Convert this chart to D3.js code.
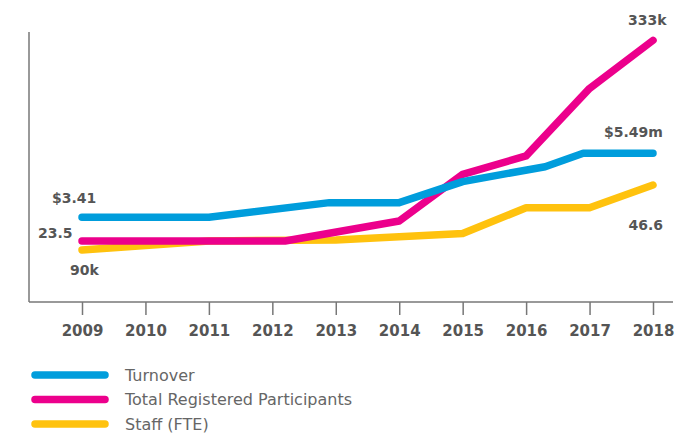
<!DOCTYPE html>
<html>
<head>
<meta charset="utf-8">
<script src="https://cdn.jsdelivr.net/npm/d3@7"></script>
<style>
  body { margin: 0; background: #fff; }
  svg text { font-family: "DejaVu Sans", sans-serif; }
</style>
</head>
<body>
<div id="chart"></div>
<script>
// x = year (fractional where the kink sits between ticks), y = index height of the line
const years = [2009, 2010, 2011, 2012, 2013, 2014, 2015, 2016, 2017, 2018];

const turnover = [
  [2009, 31.4], [2011, 31.4], [2012.9, 36.8], [2014, 36.8],
  [2015, 44.6], [2016.3, 50.1], [2016.9, 55.1], [2018, 55.1]
];
const participants = [
  [2009, 22.6], [2012.2, 22.6], [2014, 30], [2015, 47.3],
  [2016, 54.1], [2017, 79.1], [2018, 96.9]
];
const staff = [
  [2009, 19.3], [2011, 22.6], [2013, 23.0], [2015, 25.4],
  [2016, 34.9], [2017, 34.9], [2018, 43.3]
];

const seriesNames = ["Turnover", "Total Registered Participants", "Staff (FTE)"];
const seriesColors = ["#009ddc", "#ec008c", "#ffc20e"];
const startLabels = ["$3.41", "23.5", "90k"];
const endLabels = ["$5.49m", "333k", "46.6"];

const width = 693;
const height = 435;

const svg = d3.select("#chart")
  .append("svg")
  .attr("width", width)
  .attr("height", height);

const x = d3.scaleLinear().domain([2009, 2018]).range([82, 653]);
const y = d3.scaleLinear().domain([0, 100]).range([302, 32]);

// axes
svg.append("line")
  .attr("x1", 29).attr("x2", 29)
  .attr("y1", 32).attr("y2", 302)
  .attr("stroke", "#777").attr("stroke-width", 1.5);

const xAxis = svg.append("g")
  .attr("transform", "translate(0,302)")
  .call(d3.axisBottom(x)
    .tickValues(years)
    .tickFormat(d3.format("d"))
    .tickSize(13)
    .tickPadding(10)
    .tickSizeOuter(0));
xAxis.select(".domain").remove();
xAxis.selectAll(".tick line").attr("stroke", "#777").attr("stroke-width", 1.5);
xAxis.selectAll(".tick text")
  .attr("fill", "#555")
  .style("font-size", "15px")
  .style("font-weight", "bold");
xAxis.append("line")
  .attr("x1", 29).attr("x2", 673)
  .attr("stroke", "#777").attr("stroke-width", 1.5);

// lines (yellow at the back, blue on top)
const line = d3.line().x(d => x(d[0])).y(d => y(d[1]));
const allSeries = [turnover, participants, staff];

[2, 1, 0].forEach(i => {
  svg.append("path")
    .datum(allSeries[i])
    .attr("d", line)
    .attr("fill", "none")
    .attr("stroke", seriesColors[i])
    .attr("stroke-width", 7.5)
    .attr("stroke-linecap", "round")
    .attr("stroke-linejoin", "round");
});

// value labels
const startOffsets = [[-30, -14], [-44, -3], [-12, 25]];
const endOffsets = [[-49, -16], [-25, -15], [10, 45]];

const labelStyle = sel => sel
  .attr("fill", "#555")
  .style("font-size", "14px")
  .style("font-weight", "bold");

allSeries.forEach((s, i) => {
  const first = s[0];
  const last = s[s.length - 1];
  svg.append("text")
    .attr("x", x(first[0]) + startOffsets[i][0])
    .attr("y", y(first[1]) + startOffsets[i][1])
    .text(startLabels[i])
    .call(labelStyle);
  svg.append("text")
    .attr("x", x(last[0]) + endOffsets[i][0])
    .attr("y", y(last[1]) + endOffsets[i][1])
    .attr("text-anchor", i === 2 ? "end" : "start")
    .text(endLabels[i])
    .call(labelStyle);
});

// legend
const legend = svg.append("g")
  .selectAll("g")
  .data(seriesNames)
  .join("g")
  .attr("transform", (d, i) => `translate(0,${375 + i * 24.5})`);

legend.append("line")
  .attr("x1", 35).attr("x2", 105)
  .attr("stroke", (d, i) => seriesColors[i])
  .attr("stroke-width", 7.5)
  .attr("stroke-linecap", "round");

legend.append("text")
  .attr("x", 125)
  .attr("dy", "0.36em")
  .attr("fill", "#666")
  .style("font-size", "16px")
  .text(d => d);
</script>
</body>
</html>
